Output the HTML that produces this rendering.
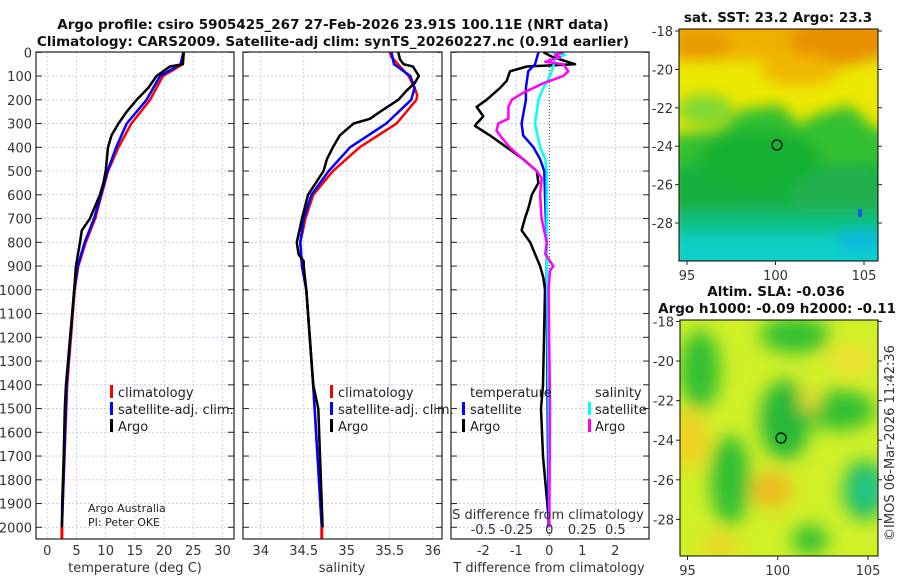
<!DOCTYPE html>
<html><head><meta charset="utf-8">
<style>
body{margin:0;background:#fff;}
svg{display:block;font-family:"DejaVu Sans","Liberation Sans",sans-serif;}
.tk{font-size:13px;fill:#333;}
.tt{font-size:13.5px;font-weight:bold;fill:#111;}
.lg{font-size:13px;fill:#222;}
</style></head>
<body>
<svg id="chart" width="900" height="580" viewBox="0 0 900 580">
<defs>
<filter id="blur1" x="-20%" y="-20%" width="140%" height="140%"><feGaussianBlur stdDeviation="7"/></filter>
<filter id="blur2" x="-20%" y="-20%" width="140%" height="140%"><feGaussianBlur stdDeviation="9"/></filter>
<clipPath id="clipMap1"><rect x="679" y="29" width="199" height="232"/></clipPath>
<clipPath id="clipMap2"><rect x="680" y="320" width="198" height="236"/></clipPath>
</defs>
<text class="tt" x="333" y="29" text-anchor="middle">Argo profile: csiro 5905425_267 27-Feb-2026 23.91S 100.11E (NRT data)</text>
<text class="tt" x="333" y="46" text-anchor="middle">Climatology: CARS2009. Satellite-adj clim: synTS_20260227.nc (0.91d earlier)</text>

<g id="grids"></g>
<g id="series"></g>
<g id="frames"></g>

<!-- Map 1 -->
<g>
<g clip-path="url(#clipMap1)">
<rect x="679" y="29" width="199" height="232" fill="#ece800"/>
<g filter="url(#blur1)">
<rect x="660" y="10" width="240" height="50" fill="#f0b000"/>
<ellipse cx="840" cy="40" rx="50" ry="25" fill="#e89000"/>
<ellipse cx="700" cy="45" rx="30" ry="15" fill="#e89a00"/>
<ellipse cx="800" cy="70" rx="40" ry="15" fill="#f0b800"/>
<ellipse cx="705" cy="110" rx="28" ry="16" fill="#80d830"/>
<path d="M670 135 L720 130 L740 110 L780 105 L800 125 L815 115 L850 105 L870 125 L900 140 L900 300 L670 300 Z" fill="#30c030"/>
<rect x="670" y="165" width="240" height="55" fill="#18b040"/>
<ellipse cx="760" cy="160" rx="60" ry="30" fill="#18b030"/>
<ellipse cx="840" cy="195" rx="50" ry="25" fill="#20b050"/>
<rect x="670" y="212" width="240" height="22" fill="#10c080"/>
<rect x="670" y="234" width="240" height="40" fill="#08d0c8"/>
<ellipse cx="860" cy="240" rx="25" ry="10" fill="#10b8e0"/>
</g>
<rect x="858" y="209" width="4" height="8" fill="#1060e0"/>
</g>
<circle cx="777" cy="145" r="5" fill="none" stroke="#000" stroke-width="1.2"/>
<rect x="679" y="29" width="199" height="232" fill="none" stroke="#000" stroke-width="1"/>
</g>
<text class="tt" x="778" y="22" text-anchor="middle">sat. SST: 23.2 Argo: 23.3</text>
<g id="map1ticks"></g>

<!-- Map 2 -->
<g>
<g clip-path="url(#clipMap2)">
<rect x="680" y="320" width="198" height="236" fill="#d0f028"/>
<g filter="url(#blur2)">
<ellipse cx="700" cy="370" rx="20" ry="40" fill="#30c030"/>
<ellipse cx="795" cy="335" rx="35" ry="18" fill="#30c030"/>
<ellipse cx="785" cy="420" rx="25" ry="40" fill="#28b838"/>
<ellipse cx="840" cy="410" rx="35" ry="20" fill="#30c030"/>
<ellipse cx="730" cy="480" rx="20" ry="45" fill="#30c030"/>
<ellipse cx="865" cy="490" rx="22" ry="30" fill="#20c060"/>
<ellipse cx="868" cy="490" rx="10" ry="12" fill="#20c8a0"/>
<ellipse cx="810" cy="540" rx="18" ry="15" fill="#30c030"/>
<ellipse cx="690" cy="440" rx="18" ry="30" fill="#f0d020"/>
<ellipse cx="772" cy="490" rx="20" ry="18" fill="#f0b820"/>
<ellipse cx="850" cy="360" rx="22" ry="15" fill="#f0e030"/>
<ellipse cx="720" cy="545" rx="20" ry="10" fill="#f0d020"/>
<ellipse cx="810" cy="400" rx="10" ry="12" fill="#f0e030"/>
</g>
</g>
<circle cx="781" cy="438" r="5" fill="none" stroke="#000" stroke-width="1.2"/>
<rect x="680" y="320" width="198" height="236" fill="none" stroke="#000" stroke-width="1"/>
</g>
<text class="tt" x="776" y="296" text-anchor="middle">Altim. SLA: -0.036</text>
<text class="tt" x="896" y="313" text-anchor="end">Argo h1000: -0.09 h2000: -0.11</text>
<g id="map2ticks"></g>
<text class="tk" transform="translate(894,443) rotate(-90)" text-anchor="middle">©IMOS 06-Mar-2026 11:42:36</text>

<!-- legends -->
<g>
<rect x="110" y="385" width="3" height="13" fill="#f00"/><text class="lg" x="118" y="397">climatology</text>
<rect x="110" y="402" width="3" height="13" fill="#00f"/><text class="lg" x="118" y="414">satellite-adj. clim.</text>
<rect x="110" y="419" width="3" height="13" fill="#000"/><text class="lg" x="118" y="431">Argo</text>
</g>
<g>
<rect x="330" y="385" width="3" height="13" fill="#f00"/><text class="lg" x="338" y="397">climatology</text>
<rect x="330" y="402" width="3" height="13" fill="#00f"/><text class="lg" x="338" y="414">satellite-adj. clim.</text>
<rect x="330" y="419" width="3" height="13" fill="#000"/><text class="lg" x="338" y="431">Argo</text>
</g>
<g>
<text class="lg" x="470" y="397">temperature</text>
<text class="lg" x="595" y="397">salinity</text>
<rect x="462" y="402" width="3" height="13" fill="#00f"/><text class="lg" x="470" y="414">satellite</text>
<rect x="462" y="419" width="3" height="13" fill="#000"/><text class="lg" x="470" y="431">Argo</text>
<rect x="588" y="402" width="3" height="13" fill="#0ff"/><text class="lg" x="595" y="414">satellite</text>
<rect x="588" y="419" width="3" height="13" fill="#f0f"/><text class="lg" x="595" y="431">Argo</text>
</g>
<text x="88" y="512" style="font-size:11px" fill="#222">Argo Australia</text>
<text x="88" y="526" style="font-size:11px" fill="#222">PI: Peter OKE</text>
<text class="tk" x="548" y="519" text-anchor="middle">S difference from climatology</text>
<g id="sticks"></g>

<text class="tk" x="135" y="572" text-anchor="middle">temperature (deg C)</text>
<text class="tk" x="342" y="572" text-anchor="middle">salinity</text>
<text class="tk" x="549" y="572" text-anchor="middle">T difference from climatology</text>
</svg>
<script>
// ---- data ----
const depthTicks = [0,100,200,300,400,500,600,700,800,900,1000,1100,1200,1300,1400,1500,1600,1700,1800,1900,2000];
const tempTicks = [0,5,10,15,20,25,30];
const salTicks = [34,34.5,35,35.5,36];
const salTickLabels = ["34","34.5","35","35.5","36"];
const tdiffTicks = [-2,-1,0,1,2];
const sdiffTicks = [-0.5,-0.25,0,0.25,0.5];
const sdiffTickLabels = ["-0.5","-0.25","0","0.25","0.5"];

const tClimDepth = [0,50,100,200,300,400,500,600,700,800,900,1000,1400,2000];
const tClim = [23.4,23.2,19.8,17.6,14.4,12.2,10.4,9.3,8.2,6.6,5.3,4.7,3.4,2.5];
const tSatDepth = [0,50,100,200,300,400,500,600,700,800,900,1000,1400,2000];
const tSat = [23.3,22.8,19.3,17.0,13.6,11.8,10.3,9.2,8.0,6.4,5.2,4.6,3.3,2.5];
const tArgoDepth = [0,50,60,100,150,200,250,300,350,400,500,550,600,700,750,800,900,1000,1400,1500,1700,1900,2000];
const tArgo = [23.3,23.2,21.0,18.7,17.3,15.3,13.6,12.2,11.0,10.4,10.0,9.6,9.0,7.3,5.9,5.6,4.9,4.6,3.2,3.0,2.8,2.55,2.5];

const sClimDepth = [0,20,100,150,180,200,300,400,500,600,700,800,900,1000,1400,2000];
const sClim = [35.50,35.52,35.72,35.79,35.82,35.81,35.58,35.15,34.84,34.61,34.52,34.46,34.48,34.53,34.61,34.71];
const sSatDepth = [0,50,100,150,200,300,400,500,600,700,800,900,1000,1400,2000];
const sSat = [35.52,35.55,35.74,35.79,35.75,35.46,35.04,34.79,34.59,34.50,34.46,34.48,34.53,34.61,34.71];
const sArgoDepth = [0,30,50,60,100,130,160,200,250,280,300,350,400,450,500,600,700,800,850,880,900,1000,1400,1500,2000];
const sArgo = [35.60,35.62,35.66,35.77,35.84,35.79,35.70,35.60,35.39,35.27,35.08,34.92,34.84,34.77,34.73,34.55,34.48,34.42,34.44,34.50,34.50,34.53,34.61,34.67,34.72];

const dTArgoDepth = [0,20,50,60,80,120,150,200,230,270,300,310,350,400,450,500,550,600,650,700,750,800,850,900,950,1000,1400,1500,1700,1900,2000];
const dTArgo = [-0.18,0.1,0.78,-0.68,-1.19,-1.29,-1.49,-1.9,-2.2,-2.0,-2.2,-2.25,-1.8,-1.29,-0.79,-0.38,-0.33,-0.53,-0.62,-0.74,-0.84,-0.58,-0.43,-0.28,-0.18,-0.13,-0.19,-0.25,-0.19,-0.06,0];
const dTSatDepth = [0,50,80,150,200,300,350,400,450,500,600,800,1000,1500,2000];
const dTSat = [-0.33,-0.43,-0.64,-0.71,-0.71,-0.84,-0.79,-0.48,-0.28,-0.15,-0.13,-0.08,-0.08,-0.05,-0.02];
const dSSatDepth = [0,10,30,60,100,150,200,250,300,400,450,500,600,800,1000,1500,2000];
const dSSat = [0.018,0.12,0.043,0.03,0.005,-0.045,-0.083,-0.095,-0.108,-0.07,-0.03,-0.02,-0.02,-0.02,-0.015,-0.005,0];
const dSArgoDepth = [0,10,20,40,50,80,100,130,170,200,230,280,300,330,360,400,450,500,530,600,700,800,850,900,920,1000,1500,2000];
const dSArgo = [0.106,0.043,0.08,-0.03,0.106,0.144,0.106,-0.045,-0.197,-0.285,-0.31,-0.31,-0.386,-0.40,-0.36,-0.30,-0.20,-0.095,-0.058,-0.07,-0.058,-0.02,-0.03,0.03,0.005,-0.005,0.005,0];

const map1Lat = [-18,-20,-22,-24,-26,-28];
const map1Lon = [95,100,105];
const map2Lat = [-18,-20,-22,-24,-26,-28];
const map2Lon = [95,100,105];

// ---- scales ----
const NS = 'http://www.w3.org/2000/svg';
const yD = d => 52.3 + d * 0.2375;
const xT = t => 47.3 + t * 5.84;
const xS = s => 260.7 + (s - 34) * 86;
const xDT = v => 549.3 + v * 33;
const xDS = v => 549.3 + v * 132;
const panels = [{x0:36,x1:234,name:'temperature'},{x0:243,x1:442,name:'salinity'},{x0:451,x1:649,name:'difference'}];
const yTop = 52, yBot = 539;

function mk(tag, attrs, parent){const e=document.createElementNS(NS,tag);for(const k in attrs)e.setAttribute(k,attrs[k]);parent.appendChild(e);return e;}
const grids=document.getElementById('grids'), series=document.getElementById('series'), frames=document.getElementById('frames');

panels.forEach((p,pi)=>{
  depthTicks.forEach(d=>{
    const l=mk('line',{x1:p.x0,x2:p.x1,y1:yD(d),y2:yD(d),stroke:'#c4c8e8','stroke-width':0.8,'stroke-dasharray':'2,2'},grids);
    
    
  });
  const xs = pi===0?tempTicks.map(xT):pi===1?salTicks.map(xS):tdiffTicks.map(xDT);
  xs.forEach((x,i)=>{
    if(pi===2 && tdiffTicks[i]===0) return;
    const l=mk('line',{x1:x,x2:x,y1:yTop,y2:yBot,stroke:'#c4c8e8','stroke-width':0.8,'stroke-dasharray':'2,2'},grids);
    
    
  });
});
const zl=mk('line',{x1:xDT(0),x2:xDT(0),y1:yTop,y2:yBot,stroke:'#333','stroke-width':1,'stroke-dasharray':'1,2'},grids);



function line(xsArr, ds, fx, color, name, w){
  const pts = xsArr.map((v,i)=>fx(v).toFixed(1)+','+yD(ds[i]).toFixed(1)).join(' ');
  const e=mk('polyline',{points:pts,fill:'none',stroke:color,'stroke-width':w||2.5,'stroke-linejoin':'round'},series);
  
  
}
line(tClim,tClimDepth,xT,'#f00','temperature-climatology-line');
line(tSat,tSatDepth,xT,'#00f','temperature-satellite-line');
line(tArgo,tArgoDepth,xT,'#000','temperature-argo-line');
line(sClim,sClimDepth,xS,'#f00','salinity-climatology-line');
line(sSat,sSatDepth,xS,'#00f','salinity-satellite-line');
line(sArgo,sArgoDepth,xS,'#000','salinity-argo-line');
line(dTArgo,dTArgoDepth,xDT,'#000','t-diff-argo-line');
line(dTSat,dTSatDepth,xDT,'#00f','t-diff-satellite-line');
line(dSSat,dSSatDepth,xDS,'#0ff','s-diff-satellite-line');
line(dSArgo,dSArgoDepth,xDS,'#f0f','s-diff-argo-line');
[[xT(tClim[tClim.length-1])],[xS(sClim[sClim.length-1])]].forEach(a=>{
  const r=mk('rect',{x:a[0]-1.5,y:yD(2000),width:3,height:yBot-yD(2000),fill:'#f00'},series);
  
  
});

panels.forEach((p,pi)=>{
  const f=mk('rect',{x:p.x0,y:yTop,width:p.x1-p.x0,height:yBot-yTop,fill:'none',stroke:'#222','stroke-width':1.2},frames);
  
  
  depthTicks.forEach(d=>{
    mk('line',{x1:p.x0,x2:p.x0+6,y1:yD(d),y2:yD(d),stroke:'#222'},frames);
    mk('line',{x1:p.x1-6,x2:p.x1,y1:yD(d),y2:yD(d),stroke:'#222'},frames);
  });
});
depthTicks.forEach(d=>{
  const t=mk('text',{x:32,y:yD(d)+5,'text-anchor':'end',class:'tk'},frames);
  t.textContent=d;
  
  
});
function xLabels(vals, labels, fx){
  vals.forEach((v,i)=>{
    const t=mk('text',{x:fx(v),y:555,'text-anchor':'middle',class:'tk'},frames);
    t.textContent=labels[i];
    
    
  });
}
xLabels(tempTicks,tempTicks.map(String),xT);
xLabels(salTicks,salTickLabels,xS);
xLabels(tdiffTicks,tdiffTicks.map(String),xDT);
const st=document.getElementById('sticks');
sdiffTicks.forEach((v,i)=>{
  const t=mk('text',{x:xDS(v),y:534,'text-anchor':'middle',class:'tk'},st);
  t.textContent=sdiffTickLabels[i];
  
  
});

function mapTicks(gid, lats, lons, fy, fx, x0, x1, yB){
  const g=document.getElementById(gid);
  lats.forEach(v=>{
    const y=fy(v);
    mk('line',{x1:x0-4,x2:x0,y1:y,y2:y,stroke:'#222'},g);
    mk('line',{x1:x1,x2:x1+4,y1:y,y2:y,stroke:'#222'},g);
    const t=mk('text',{x:x0-6,y:y+5,'text-anchor':'end',class:'tk'},g);
    t.textContent=v;
    
    
  });
  lons.forEach(v=>{
    const x=fx(v);
    mk('line',{x1:x,x2:x,y1:yB,y2:yB+4,stroke:'#222'},g);
    const t=mk('text',{x:x,y:yB+19,'text-anchor':'middle',class:'tk'},g);
    t.textContent=v;
    
    
  });
}
mapTicks('map1ticks',map1Lat,map1Lon,v=>31+(-18-v)*19.2,v=>687+(v-95)*17.7,679,878,261);
mapTicks('map2ticks',map2Lat,map2Lon,v=>321.4+(-18-v)*19.8,v=>687.5+(v-95)*18.05,680,878,556);
</script>
</body></html>
